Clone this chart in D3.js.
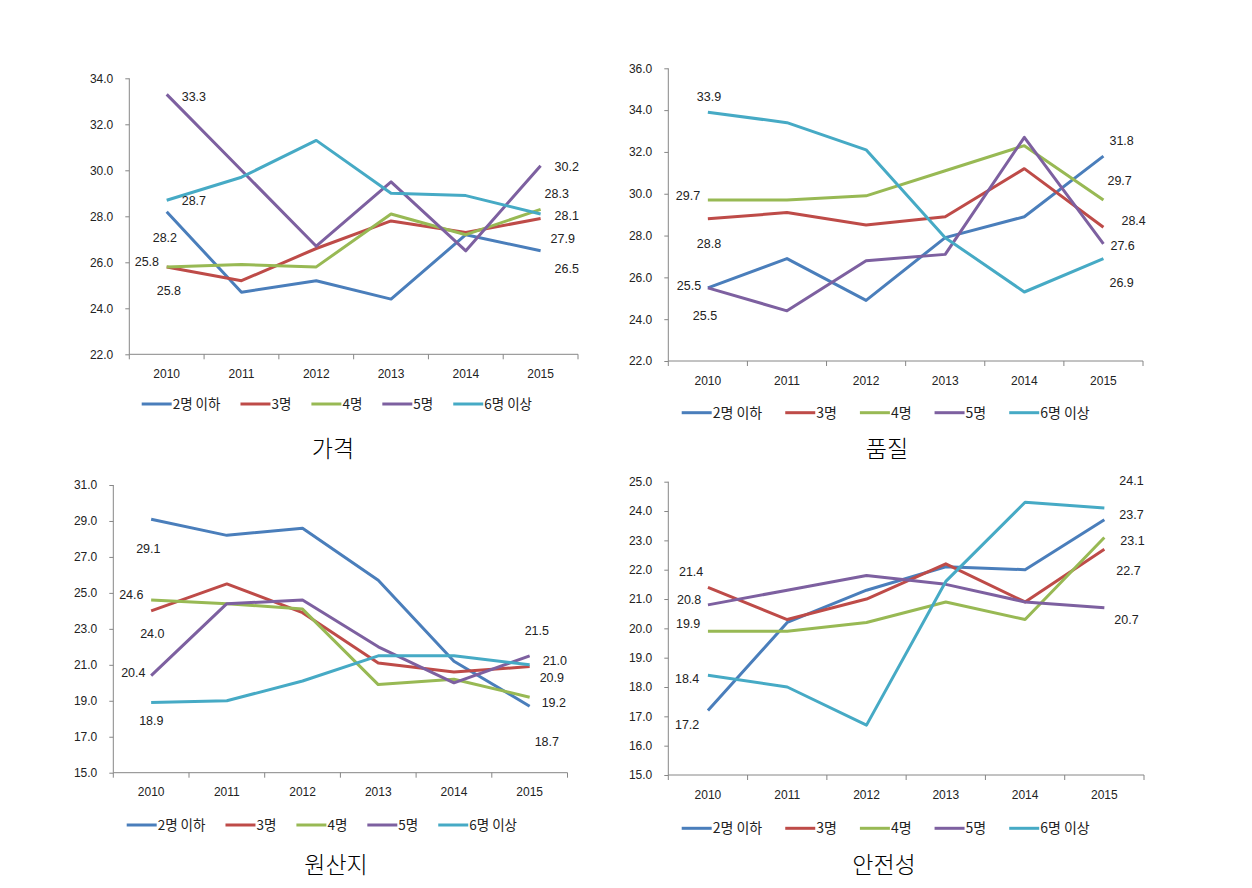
<!DOCTYPE html>
<html><head><meta charset="utf-8">
<script src="https://cdn.jsdelivr.net/npm/d3@7"></script>
<style>
html,body{margin:0;padding:0;background:#fff;}
svg{display:block;}
</style></head>
<body>
<svg id="chart" width="1252" height="888"></svg>
<script>
// ---------- data ----------
const years = ["2010","2011","2012","2013","2014","2015"];
const seriesNames = ["2명 이하","3명","4명","5명","6명 이상"];
const seriesColors = ["#4A7EBB","#BE4B48","#98B954","#7D60A0","#46AAC5"];
const panelTitles = ["가격","품질","원산지","안전성"];

// 가격
const priceValues = [
  [28.2,24.7,25.2,24.4,27.2,26.5],
  [25.8,25.2,26.6,27.8,27.3,27.9],
  [25.8,25.9,25.8,28.1,27.2,28.3],
  [33.3,30.0,26.7,29.5,26.5,30.2],
  [28.7,29.7,31.3,29.0,28.9,28.1]
];
// 품질
const qualityValues = [
  [25.5,26.9,24.9,27.9,28.9,31.8],
  [28.8,29.1,28.5,28.9,31.2,28.4],
  [29.7,29.7,29.9,31.1,32.3,29.7],
  [25.5,24.4,26.8,27.1,32.7,27.6],
  [33.9,33.4,32.1,27.9,25.3,26.9]
];
// 원산지
const originValues = [
  [29.1,28.2,28.6,25.7,21.2,18.7],
  [24.0,25.5,23.9,21.1,20.6,20.9],
  [24.6,24.4,24.1,19.9,20.2,19.2],
  [20.4,24.4,24.6,22.0,20.0,21.5],
  [18.9,19.0,20.1,21.5,21.5,21.0]
];
// 안전성
const safetyValues = [
  [17.2,20.2,21.3,22.1,22.0,23.7],
  [21.4,20.3,21.0,22.2,20.9,22.7],
  [19.9,19.9,20.2,20.9,20.3,23.1],
  [20.8,21.3,21.8,21.5,20.9,20.7],
  [18.4,18.0,16.7,21.6,24.3,24.1]
];
// y-axis domains and tick steps
const yDomains = [[22,34],[22,36],[15,31],[15,25]];
const yTickSteps = [2,2,2,1];

// ---------- layout (positions, not data) ----------
const panels = [
  {values: priceValues,   left:129.3, right:578,  top:78.3,  bottom:354.3, legendX:141.7, legendY:404,   legendGap:20, legendFont:13.5, titleX:333, titleY:449,
   leftOff:[[-14,26],[-10,24],[-32,-5],[15,2],[15,0]], rightOff:[[14,18],[10,20],[4,-16],[14,1],[14,2]]},
  {values: qualityValues, left:668.3, right:1143, top:68.3,  bottom:361,   legendX:681.7, legendY:412.7, legendGap:23, legendFont:14, titleX:887, titleY:449,
   leftOff:[[-31,-2],[-11,25],[-32,-4],[-15,28],[-11,-16]], rightOff:[[6,-15],[18,-7],[4,-19],[7,2],[6,24]]},
  {values: originValues,  left:113.3, right:567.5, top:485,   bottom:772.7, legendX:126.7, legendY:825,   legendGap:20, legendFont:13.5, titleX:336, titleY:865,
   leftOff:[[-15,29],[-11,23],[-32,-5],[-30,-3],[-12,18]], rightOff:[[5,35],[10,11],[12,5],[-5,-25],[13,-4]]},
  {values: safetyValues,  left:668.3, right:1144, top:481.7, bottom:775,   legendX:681.7, legendY:828.3, legendGap:23, legendFont:14, titleX:884, titleY:865,
   leftOff:[[-33,14],[-29,-16],[-32,-8],[-31,-5],[-33,3]], rightOff:[[15,-5],[12,21],[16,3],[10,12],[15,-27]]}
];

const svg = d3.select("#chart");
const fmt = d3.format(".1f");
const numFont = "'Liberation Sans', Arial, sans-serif";
const korFont = "'Noto Sans CJK KR', sans-serif";

panels.forEach((p, pi) => {
  const g = svg.append("g");
  const x = d3.scaleBand().domain(years).range([p.left, p.right]);
  const [y0, y1] = yDomains[pi];
  const y = d3.scaleLinear().domain([y0, y1]).range([p.bottom, p.top]);
  const yTicks = d3.range(y0, y1 + 0.0001, yTickSteps[pi]);

  // y axis
  const yAxis = d3.axisLeft(y).tickValues(yTicks).tickFormat(fmt).tickSize(4).tickPadding(12);
  const ya = g.append("g").attr("transform", `translate(${p.left},0)`).call(yAxis);
  ya.select(".domain").attr("stroke", "#868686").attr("d", `M0,${p.bottom}V${p.top}`);
  ya.selectAll(".tick line").attr("stroke", "#868686");
  ya.selectAll(".tick text").attr("font-family", numFont).attr("font-size", 12).attr("fill", "#222");

  // x axis
  const xAxis = d3.axisBottom(x).tickSize(0).tickPadding(15);
  const xa = g.append("g").attr("transform", `translate(0,${p.bottom})`).call(xAxis);
  xa.select(".domain").attr("stroke", "#868686").attr("d", `M${p.left},0H${p.right}`);
  xa.selectAll(".tick text").attr("font-family", numFont).attr("font-size", 12).attr("fill", "#222");
  // band boundary tick marks
  const bounds = years.map(d => x(d)).concat([x(years[years.length - 1]) + x.bandwidth()]);
  xa.selectAll(".bt").data(bounds).enter().append("line")
    .attr("x1", d => d).attr("x2", d => d).attr("y1", 0).attr("y2", 5)
    .attr("stroke", "#868686");

  // lines
  const line = d3.line()
    .x((d, i) => x(years[i]) + x.bandwidth() / 2)
    .y(d => y(d));
  p.values.forEach((vals, si) => {
    g.append("path").datum(vals)
      .attr("d", line)
      .attr("fill", "none")
      .attr("stroke", seriesColors[si])
      .attr("stroke-width", 3)
      .attr("stroke-linejoin", "round");
  });

  // data labels (first and last points)
  p.values.forEach((vals, si) => {
    const first = 0, last = vals.length - 1;
    [[first, p.leftOff[si]], [last, p.rightOff[si]]].forEach(([idx, off]) => {
      g.append("text")
        .attr("x", x(years[idx]) + x.bandwidth() / 2 + off[0])
        .attr("y", y(vals[idx]) + off[1])
        .attr("dy", "0.35em")
        .attr("font-family", numFont)
        .attr("font-size", 12.5)
        .attr("fill", "#222")
        .text(fmt(vals[idx]));
    });
  });

  // legend
  let lx = p.legendX;
  seriesNames.forEach((name, si) => {
    g.append("line")
      .attr("x1", lx).attr("x2", lx + 30)
      .attr("y1", p.legendY).attr("y2", p.legendY)
      .attr("stroke", seriesColors[si]).attr("stroke-width", 3);
    const t = g.append("text")
      .attr("x", lx + 31).attr("y", p.legendY).attr("dy", "0.35em")
      .attr("font-family", korFont).attr("font-size", p.legendFont).attr("fill", "#222")
      .text(name);
    lx += 31 + t.node().getComputedTextLength() + p.legendGap;
  });

  // title
  g.append("text")
    .attr("x", p.titleX).attr("y", p.titleY).attr("dy", "0.35em")
    .attr("text-anchor", "middle")
    .attr("font-family", korFont).attr("font-size", 23).attr("font-weight", 300)
    .attr("fill", "#000")
    .text(panelTitles[pi]);
});
</script>
</body></html>
